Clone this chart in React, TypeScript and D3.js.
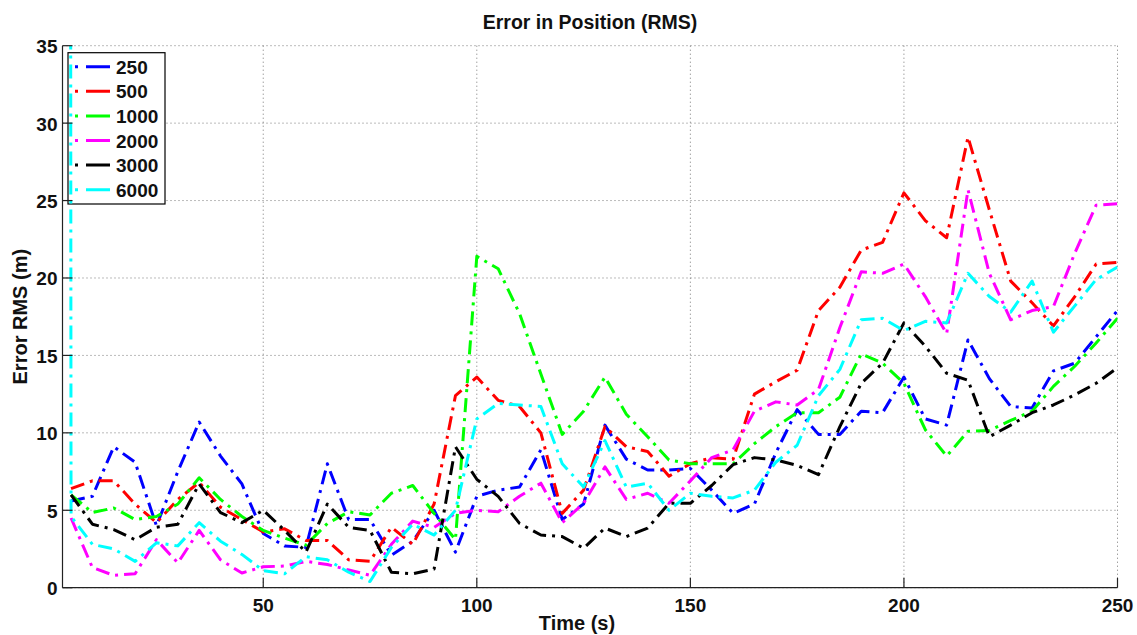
import React from "react";
import * as d3 from "d3";

// Sample times (s)
const times = [
  5, 10, 15, 20, 25, 30, 35, 40, 45, 50,
  55, 60, 65, 70, 75, 80, 85, 90, 95, 100,
  105, 110, 115, 120, 125, 130, 135, 140, 145, 150,
  155, 160, 165, 170, 175, 180, 185, 190, 195, 200,
  205, 210, 215, 220, 225, 230, 235, 240, 245, 250,
];

const s250 = [
  5.6, 5.9, 9.1, 8.1, 4.0, 7.5, 10.7, 8.5, 6.7, 3.5,
  2.7, 2.6, 8.0, 4.4, 4.4, 2.1, 3.0, 5.0, 2.3, 5.9,
  6.3, 6.5, 8.9, 4.4, 5.4, 10.5, 8.3, 7.6, 7.6, 7.7,
  6.3, 4.8, 5.4, 8.7, 11.5, 9.9, 9.9, 11.4, 11.3, 13.6,
  10.9, 10.5, 16.0, 13.5, 11.7, 11.6, 14.0, 14.5, 16.2, 17.9,
];
const s500 = [
  6.4, 6.9, 6.9, 5.4, 4.2, 5.7, 6.8, 5.2, 4.4, 3.6,
  3.8, 3.05, 3.05, 1.8, 1.7, 3.9, 2.8, 5.4, 12.4, 13.6,
  12.1, 11.7, 10.0, 4.8, 6.3, 10.4, 9.1, 8.8, 7.2, 8.0,
  8.4, 8.3, 12.5, 13.3, 14.05, 17.9, 19.4, 21.8, 22.3, 25.5,
  23.7, 22.6, 29.1, 24.4, 19.8, 18.4, 16.9, 18.8, 20.9, 21.0,
];
const s1000 = [
  6.0, 4.85, 5.15, 4.4, 4.6, 5.4, 7.1, 5.7, 4.6, 3.7,
  3.2, 2.75, 4.15, 4.9, 4.7, 6.1, 6.6, 4.8, 3.1, 21.4,
  20.6, 17.7, 13.8, 9.9, 11.4, 13.6, 11.2, 9.75, 8.25, 8.0,
  8.0, 8.0, 9.3, 10.4, 11.3, 11.3, 12.3, 15.1, 14.5, 13.2,
  10.2, 8.5, 10.1, 10.15, 10.8, 11.4, 13.0, 14.3, 15.8, 17.4,
];
const s2000 = [
  4.5, 1.3, 0.8, 0.9, 3.1, 1.6, 3.7, 1.8, 0.95, 1.35,
  1.4, 1.7, 1.5, 1.15, 0.8, 2.8, 4.3, 3.9, 4.8, 5.0,
  4.9, 5.9, 6.75, 4.2, 5.45, 7.8, 5.7, 6.1, 5.45, 6.9,
  8.4, 8.9, 11.4, 12.0, 11.8, 12.8, 16.8, 20.4, 20.3, 20.9,
  18.8, 16.4, 25.7, 20.3, 17.3, 17.9, 18.15, 21.6, 24.7, 24.8,
];
const s3000 = [
  6.0, 4.1, 3.75, 3.1, 3.9, 4.1, 6.7, 4.85, 4.2, 5.0,
  3.7, 2.3, 5.4, 3.9, 3.7, 1.0, 0.9, 1.2, 9.1, 7.0,
  5.9, 4.15, 3.4, 3.3, 2.55, 3.85, 3.3, 3.85, 5.45, 5.45,
  6.6, 7.95, 8.4, 8.25, 7.9, 7.3, 10.4, 13.2, 14.5, 17.1,
  15.6, 13.85, 13.4, 9.75, 10.5, 11.3, 11.8, 12.45, 13.2, 14.2,
];
const s6000 = [
  4.6, 2.8, 2.5, 1.7, 2.9, 2.7, 4.2, 3.0, 2.15, 1.1,
  0.9, 2.0, 1.8, 1.0, 0.4, 2.6, 4.1, 3.4, 5.0, 10.9,
  11.9, 11.8, 11.7, 8.0, 6.5, 9.5, 6.5, 6.75, 5.0, 6.1,
  5.9, 5.8, 6.3, 8.1, 9.2, 12.4, 14.1, 17.3, 17.4, 16.6,
  17.2, 17.1, 20.3, 18.8, 17.8, 19.8, 16.5, 18.2, 19.9, 20.7,
];
// initial off-scale sample of the 6000 series (clipped at the top)
const s6000Lead = { t: 4.85, v: 60 };

const seriesNames = ["250", "500", "1000", "2000", "3000", "6000"];
const seriesColors = ["#0000ff", "#ff0000", "#00ff00", "#ff00ff", "#000000", "#00ffff"];
const seriesValues = [s250, s500, s1000, s2000, s3000, s6000];

const xTicks = [50, 100, 150, 200, 250];
const yTicks = [0, 5, 10, 15, 20, 25, 30, 35];

const W = 1137;
const H = 635;
const L = 62.5;
const R = 1117.5;
const T = 45.7;
const B = 587.7;
const FONT = "'Liberation Sans', Arial, Helvetica, sans-serif";

export default function App() {
  const x = d3.scaleLinear().domain([3, 250]).range([L, R]);
  const y = d3.scaleLinear().domain([0, 35]).range([B, T]);
  const line = d3
    .line<[number, number]>()
    .x((d) => x(d[0]))
    .y((d) => y(d[1]));

  const series = seriesValues.map((vals, i) => {
    const pts: [number, number][] = times.map((t, k) => [t, vals[k]]);
    if (i === 5) pts.unshift([s6000Lead.t, s6000Lead.v]);
    return pts;
  });

  const legX = 68;
  const legY = 52.7;
  const legW = 97;
  const legH = 151.3;
  const rowH = 24.6;

  return (
    <svg
      width={W}
      height={H}
      style={{ position: "absolute", left: 0, top: 0, background: "#fff" }}
      fontFamily={FONT}
    >
      <rect x={0} y={0} width={W} height={H} fill="#fff" />
      <defs>
        <clipPath id="plotclip">
          <rect x={L} y={T} width={R - L} height={B - T} />
        </clipPath>
      </defs>

      {/* grid */}
      {xTicks.map((t) => (
        <line
          key={"gx" + t}
          x1={x(t)}
          x2={x(t)}
          y1={T}
          y2={B}
          stroke="#777"
          strokeWidth={1}
          strokeDasharray="1,3"
        />
      ))}
      {yTicks.map((t) => (
        <line
          key={"gy" + t}
          x1={L}
          x2={R}
          y1={y(t)}
          y2={y(t)}
          stroke="#777"
          strokeWidth={1}
          strokeDasharray="1,3"
        />
      ))}

      {/* legend (drawn beneath the curves) */}
      <rect x={legX} y={legY} width={legW} height={legH} fill="#fff" stroke="#000" strokeWidth={1.2} />
      {seriesNames.map((name, i) => {
        const cy = legY + 14 + i * rowH;
        return (
          <g key={"lg" + name}>
            <line
              x1={75}
              x2={113}
              y1={cy}
              y2={cy}
              stroke={seriesColors[i]}
              strokeWidth={3}
              strokeDasharray="3,8,24,3"
            />
            <text x={116} y={cy + 7} fontSize={19} fontWeight="bold" fill="#111">
              {name}
            </text>
          </g>
        );
      })}

      {/* series */}
      <g clipPath="url(#plotclip)">
        {series.map((pts, i) => (
          <path
            key={seriesNames[i]}
            d={line(pts) || ""}
            fill="none"
            stroke={seriesColors[i]}
            strokeWidth={3}
            strokeDasharray="14,6,3,6"
            strokeLinejoin="round"
          />
        ))}
      </g>

      {/* axes */}
      <line x1={L} x2={R} y1={B} y2={B} stroke="#222" strokeWidth={1.2} />
      <line x1={L} x2={L} y1={T} y2={B} stroke="#222" strokeWidth={1.2} />
      {xTicks.map((t) => (
        <g key={"xt" + t}>
          <line x1={x(t)} x2={x(t)} y1={B} y2={B - 10} stroke="#222" strokeWidth={1.2} />
          <text
            x={x(t)}
            y={B + 24}
            textAnchor="middle"
            fontSize={19}
            fontWeight="bold"
            fill="#111"
          >
            {t}
          </text>
        </g>
      ))}
      {yTicks.map((t) => (
        <g key={"yt" + t}>
          <line x1={L} x2={L + 10} y1={y(t)} y2={y(t)} stroke="#222" strokeWidth={1.2} />
          <text
            x={L - 5}
            y={y(t) + 7.5}
            textAnchor="end"
            fontSize={19}
            fontWeight="bold"
            fill="#111"
          >
            {t}
          </text>
        </g>
      ))}

      {/* labels */}
      <text x={590} y={29} textAnchor="middle" fontSize={19.5} fontWeight="bold" fill="#111">
        Error in Position (RMS)
      </text>
      <text x={577} y={630} textAnchor="middle" fontSize={20} fontWeight="bold" fill="#111">
        Time (s)
      </text>
      <text
        transform={`translate(27, ${(T + B) / 2}) rotate(-90)`}
        textAnchor="middle"
        fontSize={20}
        fontWeight="bold"
        fill="#111"
      >
        Error RMS (m)
      </text>
    </svg>
  );
}
